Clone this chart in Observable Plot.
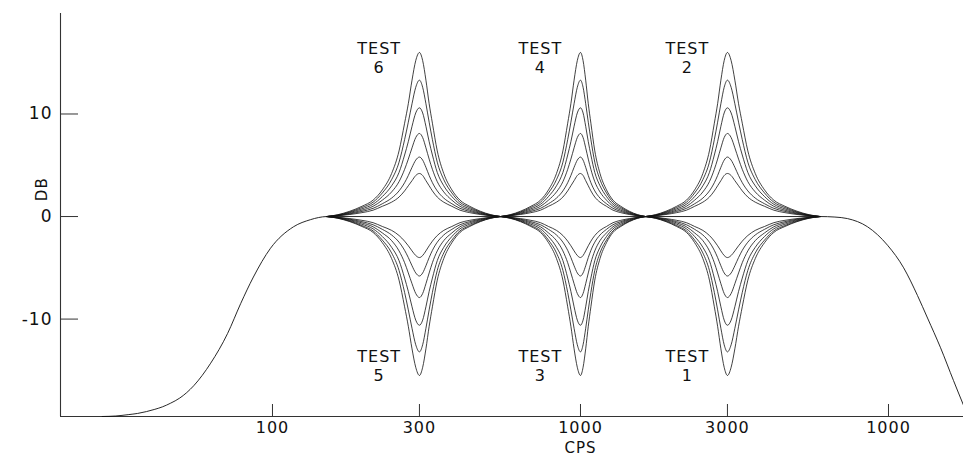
<!DOCTYPE html>
<html><head><meta charset="utf-8">
<script src="https://cdn.jsdelivr.net/npm/d3@7"></script>
<script src="https://cdn.jsdelivr.net/npm/@observablehq/plot@0.6"></script>
<style>
html,body{margin:0;padding:0;background:#fff;}
#chart svg text{letter-spacing:1px;}
</style></head><body><div id="chart"></div>
<script>
// ---- scales / ticks ----
const xDomain = [20.5, 17520];
const yDomain = [-19.5, 19.8];
const xTicks = [100, 300, 1000, 3000, 10000];
const xTickLabels = ["100", "300", "1000", "3000", "1000"];
const yTicks = [10, 0, -10];
const yTickLabels = ["10", "0", "-10"];
const xLabel = "CPS", xLabelAt = 1000;
const yLabel = "DB", yLabelAt = 1.5;

// ---- overall response (band-pass) ----
const baseFreq = [28, 31, 34, 36.5, 39, 41.5, 44, 46.7, 50, 55.5, 63, 71.5, 78.8, 86.7, 98.5, 117, 133, 141, 150, 6000, 6700, 7360, 8550, 9930, 11200, 12420, 13390, 14760, 16260, 17520];
const baseDb   = [-19.5, -19.45, -19.32, -19.2, -19.02, -18.8, -18.55, -18.2, -17.7, -16.5, -14.3, -11.4, -8.5, -5.9, -3.1, -1.0, -0.3, -0.1, 0, 0, -0.05, -0.2, -1.0, -2.8, -5.0, -7.7, -9.9, -12.8, -16.0, -18.4];

// ---- equaliser bands (centre and the points where the fans close) ----
const bandCenters = [300, 1000, 3000];
const bandLow  = [150, 550, 1626];
const bandHigh = [550, 1626, 6000];

// relative position from centre (0) to the closing point (1), same on both sides
const profilePos = [0, 0.04, 0.08, 0.12, 0.16, 0.22, 0.3, 0.4, 0.5, 0.62, 0.75, 0.88, 1.0];
// boost curves, dB at those positions
const boost1 = [4.2, 4.0, 3.5, 3.0, 2.5, 1.9, 1.4, 1.0, 0.62, 0.38, 0.2, 0.07, 0];
const boost2 = [5.8, 5.5, 4.8, 4.0, 3.3, 2.5, 1.8, 1.25, 0.8, 0.5, 0.26, 0.09, 0];
const boost3 = [8.1, 7.7, 6.7, 5.6, 4.6, 3.4, 2.4, 1.6, 1.0, 0.62, 0.32, 0.11, 0];
const boost4 = [10.6, 10.1, 8.8, 7.3, 6.0, 4.3, 3.0, 1.95, 1.2, 0.75, 0.39, 0.13, 0];
const boost5 = [13.3, 12.6, 11.0, 9.2, 7.5, 5.3, 3.6, 2.3, 1.4, 0.88, 0.45, 0.15, 0];
const boost6 = [16, 15.2, 13.3, 11.0, 9.1, 6.4, 4.2, 2.6, 1.6, 1.0, 0.52, 0.18, 0];
// cut curves
const cut1 = [-4.0, -3.8, -3.35, -2.85, -2.4, -1.85, -1.35, -0.97, -0.6, -0.37, -0.2, -0.07, 0];
const cut2 = [-5.8, -5.5, -4.8, -4.0, -3.3, -2.5, -1.8, -1.25, -0.8, -0.5, -0.26, -0.09, 0];
const cut3 = [-7.9, -7.5, -6.55, -5.5, -4.5, -3.35, -2.35, -1.6, -1.0, -0.62, -0.32, -0.11, 0];
const cut4 = [-10.6, -10.1, -8.8, -7.3, -6.0, -4.3, -3.0, -1.95, -1.2, -0.75, -0.39, -0.13, 0];
const cut5 = [-13.2, -12.5, -10.9, -9.1, -7.4, -5.25, -3.55, -2.3, -1.4, -0.88, -0.45, -0.15, 0];
const cut6 = [-15.5, -14.7, -12.9, -10.7, -8.8, -6.2, -4.1, -2.55, -1.55, -0.97, -0.5, -0.17, 0];

// ---- labels ----
const testText = ["TEST\n1", "TEST\n2", "TEST\n3", "TEST\n4", "TEST\n5", "TEST\n6"];
const testFreq = [2223, 2223, 741, 741, 222, 222];
const testDb   = [-14.5, 15.5, -14.5, 15.5, -14.5, 15.5];

// ---- build tables ----
const base = baseFreq.map((f, i) => ({f, db: baseDb[i]}));
const levels = [boost1, boost2, boost3, boost4, boost5, boost6, cut1, cut2, cut3, cut4, cut5, cut6];
const curves = [];
bandCenters.forEach((c, b) => {
  levels.forEach((vals, li) => {
    const id = b + "-" + li;
    for (let i = profilePos.length - 1; i >= 0; i--) {
      curves.push({id, f: Math.exp(Math.log(c) + profilePos[i] * (Math.log(bandLow[b]) - Math.log(c))), db: vals[i]});
    }
    for (let i = 1; i < profilePos.length; i++) {
      curves.push({id, f: Math.exp(Math.log(c) + profilePos[i] * (Math.log(bandHigh[b]) - Math.log(c))), db: vals[i]});
    }
  });
});
const tests = testText.map((t, i) => ({t, f: testFreq[i], db: testDb[i]}));

const ink = "#111";
const chart = Plot.plot({
  width: 963, height: 460,
  marginLeft: 60, marginRight: 0, marginTop: 13, marginBottom: 44,
  style: {fontFamily: "DejaVu Sans", background: "#fff", color: ink},
  x: {type: "log", domain: xDomain},
  y: {domain: yDomain},
  marks: [
    Plot.ruleX([xDomain[0]], {stroke: "#333", strokeWidth: 1.1}),
    Plot.ruleY([yDomain[0]], {stroke: "#333", strokeWidth: 1.1}),
    // inward ticks
    Plot.tickX(xTicks, {x: d => d, insetTop: 391, stroke: "#333"}),
    Plot.tickY(yTicks, {y: d => d, insetRight: 885, stroke: "#333"}),
    Plot.axisX(xTicks, {tickSize: 0, tickPadding: 5, fontSize: 16, label: null,
      tickFormat: d => xTickLabels[xTicks.indexOf(d)]}),
    Plot.axisY(yTicks, {tickSize: 0, tickPadding: 8, fontSize: 17, label: null,
      tickFormat: d => yTickLabels[yTicks.indexOf(d)]}),
    Plot.line(base, {x: "f", y: "db", stroke: ink, strokeWidth: 0.9, curve: "monotone-x"}),
    Plot.line(curves, {x: "f", y: "db", z: "id", stroke: ink, strokeWidth: 0.8, curve: "monotone-x"}),
    Plot.text(tests, {x: "f", y: "db", text: "t", fontSize: 16, lineHeight: 1.2, fill: ink}),
    Plot.text([xLabel], {x: () => xLabelAt, text: d => d, frameAnchor: "bottom", dy: 36, fontSize: 15, fill: ink}),
    Plot.text([yLabel], {y: () => yLabelAt, text: d => d, frameAnchor: "left", dx: -18, rotate: -90, fontSize: 15, fill: ink})
  ]
});
document.getElementById("chart").appendChild(chart);
</script>
</body></html>
